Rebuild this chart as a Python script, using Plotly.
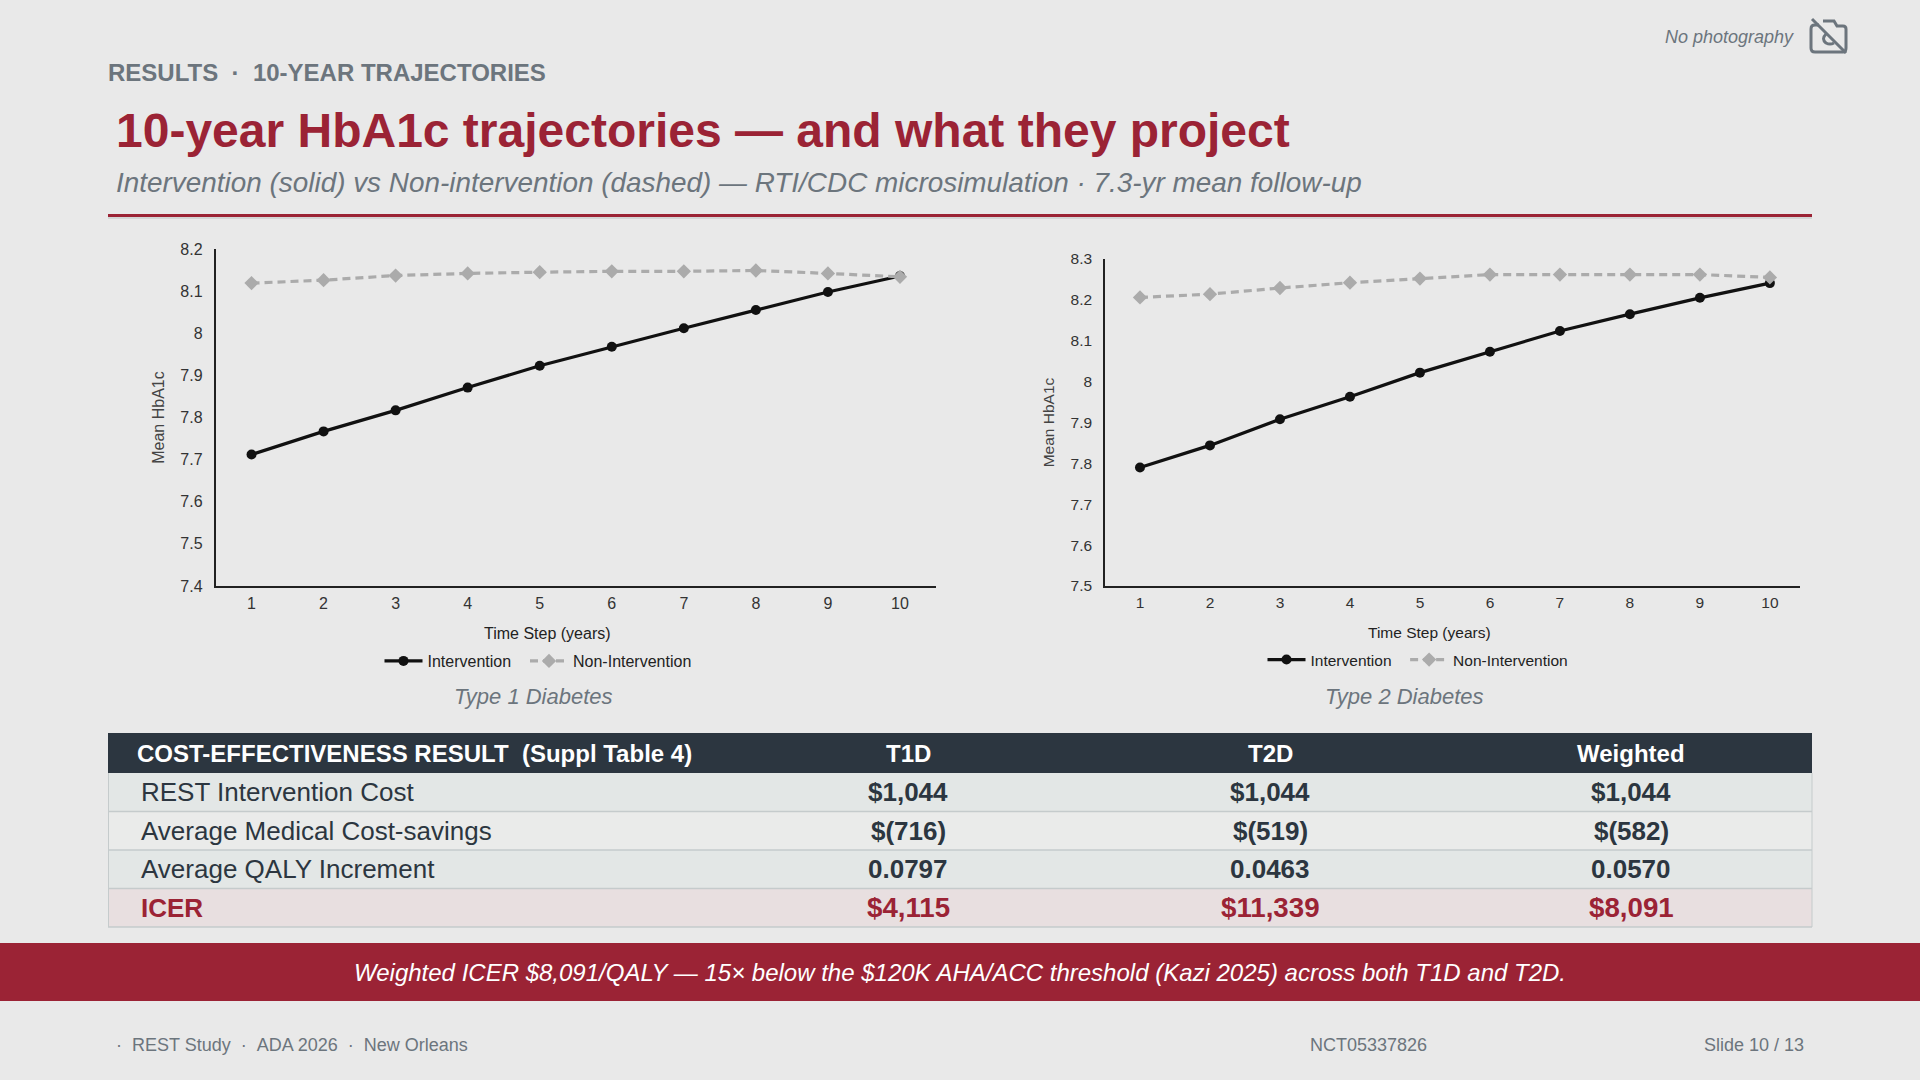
"""Slide 10: 10-year HbA1c trajectories and cost-effectiveness table."""

import plotly.graph_objects as go

W, H = 1920, 1080
BG = '#E9E9E9'
RED = '#9B2335'
GRAY = '#6C757D'
DARK = '#2C3640'
FONT = 'Liberation Sans'

years = [1, 2, 3, 4, 5, 6, 7, 8, 9, 10]

t1d_intervention = [7.712, 7.767, 7.817, 7.871, 7.923, 7.968, 8.012, 8.055, 8.098, 8.136]
t1d_non_intervention = [8.119, 8.126, 8.137, 8.142, 8.145, 8.147, 8.147, 8.149, 8.142, 8.134]
t1d_ticks = [7.4, 7.5, 7.6, 7.7, 7.8, 7.9, 8, 8.1, 8.2]
t1d_tick_labels = ['7.4', '7.5', '7.6', '7.7', '7.8', '7.9', '8', '8.1', '8.2']

t2d_intervention = [7.790, 7.844, 7.908, 7.963, 8.022, 8.073, 8.124, 8.165, 8.205, 8.241]
t2d_non_intervention = [8.206, 8.214, 8.229, 8.242, 8.252, 8.262, 8.262, 8.262, 8.262, 8.255]
t2d_ticks = [7.5, 7.6, 7.7, 7.8, 7.9, 8, 8.1, 8.2, 8.3]
t2d_tick_labels = ['7.5', '7.6', '7.7', '7.8', '7.9', '8', '8.1', '8.2', '8.3']

table_header = ['COST-EFFECTIVENESS RESULT\u00a0\u00a0(Suppl Table 4)', 'T1D', 'T2D', 'Weighted']
row_labels = ['REST Intervention Cost', 'Average Medical Cost-savings',
              'Average QALY Increment', 'ICER']
t1d_col = ['$1,044', '$(716)', '0.0797', '$4,115']
t2d_col = ['$1,044', '$(519)', '0.0463', '$11,339']
weighted_col = ['$1,044', '$(582)', '0.0570', '$8,091']


def px(x):
    return x / W


def py(y):
    return 1 - y / H


def text(fig, x, y, s, size, color=GRAY, anchor='left', bold=False, italic=False):
    fig.add_annotation(x=px(x), y=py(y), xref='paper', yref='paper', text=s,
                       showarrow=False, xanchor=anchor, yanchor='middle',
                       borderpad=0, borderwidth=0,
                       font=dict(family=FONT, size=size, color=color,
                                 weight='bold' if bold else 'normal',
                                 style='italic' if italic else 'normal'))


def rect(fig, x0, y0, x1, y1, color):
    fig.add_shape(type='rect', xref='paper', yref='paper', layer='below',
                  x0=px(x0), y0=py(y0), x1=px(x1), y1=py(y1),
                  fillcolor=color, line_width=0)


def line(fig, x0, y0, x1, y1, color, width):
    fig.add_shape(type='line', xref='paper', yref='paper',
                  x0=px(x0), y0=py(y0), x1=px(x1), y1=py(y1),
                  line=dict(color=color, width=width))


def icon_path(points):
    """Build a paper coordinate path from pixel commands."""
    out = []
    for cmd, *vals in points:
        coords = [f'{px(vals[i]):.5f},{py(vals[i + 1]):.5f}'
                  for i in range(0, len(vals), 2)]
        out.append(cmd + ' ' + ' '.join(coords))
    return ' '.join(out)


def add_chart(fig, n, intervention, non_intervention, ticks, tick_labels,
              box, xmax, legend_x, legend_y, title_x, title_y, size, standoff):
    suffix = '' if n == 1 else str(n)
    legend = 'legend' if n == 1 else f'legend{n}'
    # trailing spaces widen the gap between the two legend entries
    fig.add_trace(go.Scatter(x=years, y=intervention, name='Intervention\u00a0\u00a0',
                             mode='lines+markers', legend=legend,
                             line=dict(color='#111111', width=3.2),
                             marker=dict(symbol='circle', size=10, color='#111111'),
                             xaxis='x' + suffix, yaxis='y' + suffix))
    fig.add_trace(go.Scatter(x=years, y=non_intervention, name='Non-Intervention',
                             mode='lines+markers', legend=legend,
                             line=dict(color='#ABABAB', width=3.2, dash='8px,5px'),
                             marker=dict(symbol='diamond', size=11, color='#ABABAB'),
                             xaxis='x' + suffix, yaxis='y' + suffix))
    left, top, right, bottom = box
    fig.update_layout({
        'xaxis' + suffix: dict(domain=[px(left), px(right)], range=[0.5, xmax],
                               anchor='y' + suffix, tickvals=years,
                               showgrid=False, zeroline=False, showline=True,
                               linecolor='#222222', linewidth=1.5, ticks='',
                               ticklabelstandoff=2,
                               tickfont=dict(family=FONT, size=size, color='#333333')),
        'yaxis' + suffix: dict(domain=[py(bottom), py(top)],
                               range=[ticks[0], ticks[-1]],
                               anchor='x' + suffix, tickvals=ticks,
                               ticktext=tick_labels, showgrid=False,
                               zeroline=False, showline=True,
                               linecolor='#222222', linewidth=1.5, ticks='',
                               ticklabelstandoff=8,
                               tickfont=dict(family=FONT, size=size, color='#333333'),
                               title=dict(text='Mean HbA1c', standoff=standoff,
                                          font=dict(family=FONT, size=size, color='#444444'))),
        legend: dict(orientation='h', x=px(legend_x), y=py(legend_y), xanchor='center',
                     yanchor='middle', itemwidth=38, bgcolor='rgba(0,0,0,0)',
                     font=dict(family=FONT, size=size, color='#222222')),
    })
    # the reference centres this title off the axis middle, so it is not an axis title
    text(fig, title_x, title_y, 'Time Step (years)', size, '#222222', anchor='center')


fig = go.Figure()

add_chart(fig, 1, t1d_intervention, t1d_non_intervention, t1d_ticks, t1d_tick_labels,
          (215.5, 249, 936, 586), 10.5, 538, 661, 547.5, 633, 16, 12)
add_chart(fig, 2, t2d_intervention, t2d_non_intervention, t2d_ticks, t2d_tick_labels,
          (1105, 259, 1800, 586), 10.43, 1418, 660, 1429, 632.5, 15.5, 12)

# table
table_left, table_right = 108, 1812
col_centers = [908, 1270, 1631]
header_top, row_top, row_h = 733, 773, 38.5
row_fill = ['#E3E7E6', '#EAEBEA', '#E3E7E6', '#E8DFE0']

rect(fig, table_left, header_top, table_right, row_top, DARK)
text(fig, 137, 753, table_header[0], 24, 'white', bold=True)
for cx, label in zip(col_centers, table_header[1:]):
    text(fig, cx, 753, label, 24, 'white', anchor='center', bold=True)

for i, label in enumerate(row_labels):
    top = row_top + i * row_h
    mid = top + row_h / 2
    is_icer = label == 'ICER'
    color = RED if is_icer else DARK
    rect(fig, table_left, top, table_right, top + row_h, row_fill[i])
    line(fig, table_left, top + row_h, table_right, top + row_h, '#C5CBCC', 1.5)
    text(fig, 140.5, mid, label, 26, color, bold=is_icer)
    for cx, col in zip(col_centers, (t1d_col, t2d_col, weighted_col)):
        text(fig, cx, mid, col[i], 27.7 if is_icer else 26, color, anchor='center', bold=True)

line(fig, 108.5, row_top, 108.5, 927, '#C5CBCC', 1)
line(fig, 1812, row_top, 1812, 927, '#C5CBCC', 1)

# slide furniture
rect(fig, 0, 943, W, 1001, RED)
line(fig, 108, 218, 1812, 218, '#D4D5D5', 2)
line(fig, 108, 215.5, 1812, 215.5, RED, 3)

text(fig, 108, 72.5, 'RESULTS\u00a0\u00a0·\u00a0\u00a010-YEAR TRAJECTORIES', 24, GRAY, bold=True)
text(fig, 116, 131, '10-year HbA1c trajectories — and what they project', 48, RED, bold=True)
text(fig, 116, 182.5, 'Intervention (solid) vs Non-intervention (dashed) — RTI/CDC microsimulation · 7.3-yr mean follow-up',
     27.9, GRAY, italic=True)
text(fig, 533, 696, 'Type 1 Diabetes', 22, GRAY, anchor='center', italic=True)
text(fig, 1404.5, 696, 'Type 2 Diabetes', 22, GRAY, anchor='center', italic=True)
text(fig, 960, 972, 'Weighted ICER $8,091/QALY — 15× below the $120K AHA/ACC threshold (Kazi 2025) across both T1D and T2D.',
     24, 'white', anchor='center', italic=True)
text(fig, 116, 1045, '·\u00a0\u00a0REST Study\u00a0\u00a0·\u00a0\u00a0ADA 2026\u00a0\u00a0·\u00a0\u00a0New Orleans', 18, GRAY)
text(fig, 1368, 1045, 'NCT05337826', 18, GRAY, anchor='center')
text(fig, 1804, 1045, 'Slide 10 / 13', 18, GRAY, anchor='right')
text(fig, 1665, 37, 'No photography', 18, GRAY, italic=True)

# crossed out camera icon
camera = icon_path([('M', 1819, 25), ('L', 1815, 25), ('Q', 1811, 25, 1811, 29),
                    ('L', 1811, 48), ('Q', 1811, 52, 1815, 52), ('L', 1843, 52),
                    ('Q', 1846, 52, 1846, 48), ('L', 1846, 29), ('Q', 1846, 26, 1843, 26),
                    ('L', 1837, 26), ('L', 1834, 21), ('L', 1823, 21)])
slash = icon_path([('M', 1812, 19), ('L', 1846, 53)])
lens = icon_path([('M', 1826, 34), ('Q', 1821, 39, 1826, 43), ('Q', 1830, 45, 1834, 43)])
for path in (camera, slash, lens):
    fig.add_shape(type='path', xref='paper', yref='paper', path=path,
                  line=dict(color=GRAY, width=3))

# autoexpand off, otherwise the legends shrink the plot area and paper coords drift
fig.update_layout(width=W, height=H,
                  margin=dict(l=0, r=0, t=0, b=0, autoexpand=False),
                  paper_bgcolor=BG, plot_bgcolor=BG,
                  hovermode=False, font=dict(family=FONT))

fig.write_html("out.html", config={'displayModeBar': False},
               post_script="document.body.style.margin='0';")
